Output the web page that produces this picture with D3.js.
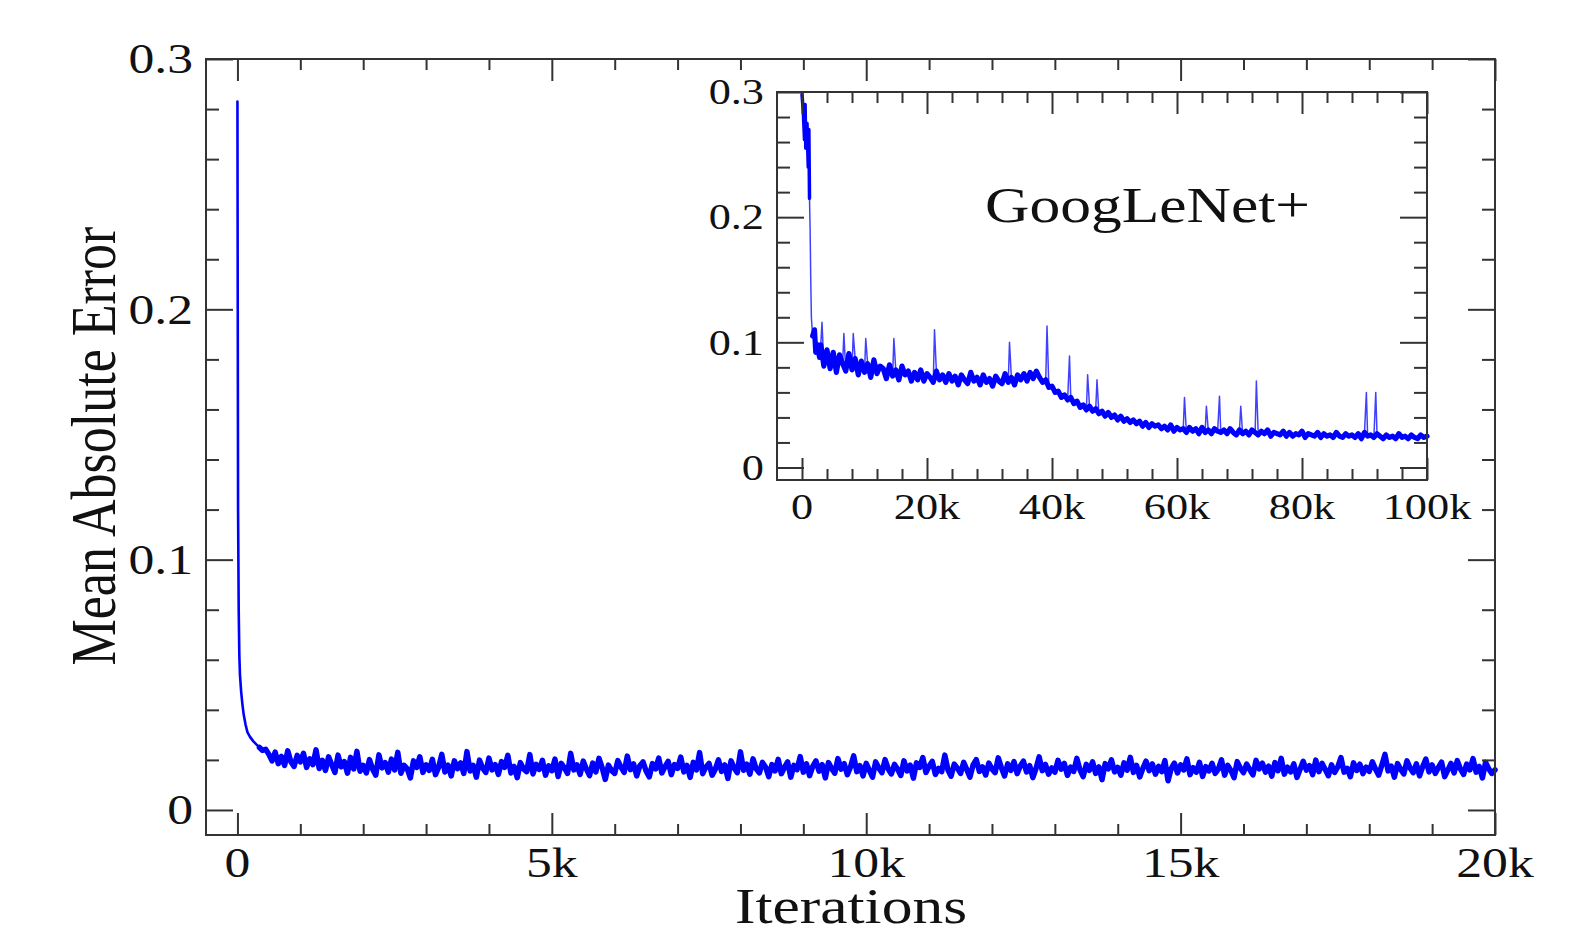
<!DOCTYPE html>
<html><head><meta charset="utf-8">
<script src="https://cdn.jsdelivr.net/npm/d3@7"></script>
<style>html,body{margin:0;padding:0;background:#fff;} svg{display:block;}</style>
</head><body><svg id="c" width="1585" height="928"></svg>
<script>
// ---------------- data ----------------
const xLabel = "Iterations";
const yLabel = "Mean Absolute Error";
const insetTitle = "GoogLeNet+";

const mainXTicks = [0, 5000, 10000, 15000, 20000];
const mainXTickLabels = ["0", "5k", "10k", "15k", "20k"];
const yTicks = [0, 0.1, 0.2, 0.3];
const yTickLabels = ["0", "0.1", "0.2", "0.3"];
const insetXTicks = [0, 20000, 40000, 60000, 80000, 100000];
const insetXTickLabels = ["0", "20k", "40k", "60k", "80k", "100k"];

// main curve: first few hundred iterations
const mainEarlyIter = [0, 5, 10, 20, 30, 40, 60, 80, 100, 130, 160, 200, 250, 300, 350, 400, 450];
const mainEarlyMAE  = [.283, .200, .120, .080, .062, .054, .047, .042, .038, .034, .031, .0292, .0275, .0262, .0250, .0238, .0242];
// main curve: sampled every 50 iterations from 500 to 20000
const mainGridStart = 500, mainGridStep = 50;
const mainGridMAE = [
.0222,.0196,.0231,.0185,.0214,.0178,.0236,.0193,.0174,.0218,
.0192,.0226,.0170,.0204,.0181,.0240,.0166,.0198,.0158,.0212,
.0181,.0150,.0219,.0172,.0193,.0147,.0210,.0164,.0234,.0155,
.0178,.0148,.0201,.0163,.0139,.0220,.0168,.0189,.0151,.0203,
.0160,.0230,.0147,.0178,.0165,.0128,.0196,.0170,.0212,.0150,
.0180,.0158,.0202,.0141,.0171,.0222,.0152,.0179,.0136,.0196,
.0165,.0188,.0146,.0233,.0156,.0178,.0131,.0199,.0167,.0150,
.0207,.0160,.0181,.0142,.0193,.0170,.0218,.0148,.0174,.0129,
.0189,.0164,.0153,.0221,.0144,.0182,.0162,.0198,.0139,.0176,
.0157,.0203,.0134,.0186,.0168,.0146,.0226,.0160,.0180,.0142,
.0195,.0163,.0137,.0187,.0152,.0206,.0169,.0122,.0179,.0158,
.0146,.0197,.0171,.0150,.0215,.0161,.0184,.0136,.0177,.0192,
.0155,.0132,.0185,.0164,.0207,.0148,.0173,.0194,.0141,.0181,
.0166,.0211,.0152,.0178,.0130,.0190,.0160,.0229,.0145,.0171,
.0186,.0139,.0163,.0200,.0154,.0180,.0126,.0196,.0168,.0149,
.0232,.0159,.0183,.0143,.0204,.0164,.0148,.0190,.0171,.0133,
.0181,.0156,.0202,.0145,.0170,.0192,.0131,.0178,.0161,.0213,
.0151,.0184,.0137,.0174,.0196,.0155,.0181,.0128,.0189,.0166,
.0147,.0205,.0163,.0185,.0141,.0172,.0216,.0153,.0177,.0136,
.0186,.0158,.0131,.0192,.0168,.0149,.0201,.0164,.0144,.0182,
.0163,.0138,.0196,.0156,.0179,.0127,.0188,.0170,.0209,.0150,
.0175,.0194,.0142,.0166,.0153,.0219,.0160,.0135,.0183,.0167,
.0146,.0190,.0161,.0131,.0180,.0201,.0154,.0172,.0140,.0187,
.0164,.0149,.0208,.0169,.0136,.0184,.0158,.0193,.0145,.0176,
.0195,.0152,.0177,.0129,.0165,.0212,.0157,.0182,.0143,.0168,
.0151,.0198,.0163,.0186,.0138,.0171,.0154,.0206,.0160,.0133,
.0182,.0158,.0192,.0146,.0172,.0121,.0185,.0164,.0200,.0152,
.0170,.0139,.0188,.0159,.0210,.0150,.0178,.0132,.0166,.0195,
.0157,.0184,.0143,.0174,.0153,.0197,.0117,.0165,.0187,.0148,
.0180,.0160,.0204,.0141,.0169,.0151,.0190,.0134,.0173,.0156,
.0186,.0146,.0163,.0200,.0139,.0178,.0158,.0129,.0193,.0167,
.0149,.0183,.0161,.0140,.0198,.0164,.0187,.0151,.0175,.0135,
.0189,.0157,.0206,.0143,.0171,.0152,.0184,.0130,.0163,.0194,
.0159,.0177,.0141,.0199,.0153,.0186,.0162,.0137,.0180,.0150,
.0172,.0209,.0151,.0166,.0133,.0188,.0158,.0183,.0145,.0171,
.0154,.0192,.0163,.0139,.0179,.0222,.0156,.0175,.0131,.0185,
.0162,.0144,.0196,.0168,.0149,.0184,.0136,.0173,.0203,.0152,
.0180,.0146,.0170,.0191,.0133,.0159,.0186,.0148,.0197,.0164,
.0142,.0183,.0160,.0205,.0151,.0174,.0128,.0190,.0165,.0146,
.0160];

// inset curve: first iterations
const insetEarlyIter = [0, 200, 400, 500, 600, 800, 1000, 1100, 1200, 1300, 1400, 1500, 1700, 2000, 2200, 2500, 2800];
const insetEarlyMAE  = [.298, .285, .262, .290, .255, .275, .240, .270, .215, .190, .150, .120, .105, .110, .092, .098, .088];
// inset curve: sampled every 500 iterations from 3000 to 100000
const insetGridStart = 3000, insetGridStep = 500;
const insetGridMAE = [
.0980,.0810,.0940,.0790,.0920,.0760,.0900,.0830,.0770,.0910,
.0780,.0870,.0740,.0850,.0760,.0830,.0720,.0860,.0750,.0810,
.0790,.0710,.0820,.0730,.0780,.0700,.0810,.0740,.0770,.0690,
.0760,.0700,.0780,.0690,.0750,.0720,.0680,.0770,.0700,.0740,
.0680,.0750,.0690,.0730,.0660,.0740,.0700,.0670,.0760,.0690,
.0720,.0660,.0740,.0680,.0710,.0650,.0730,.0690,.0670,.0750,
.0680,.0720,.0660,.0740,.0700,.0750,.0690,.0760,.0710,.0770,
.0720,.0680,.0700,.0640,.0650,.0600,.0610,.0560,.0580,.0540,
.0560,.0510,.0530,.0480,.0500,.0460,.0490,.0450,.0470,.0430,
.0450,.0410,.0440,.0400,.0420,.0380,.0410,.0370,.0390,.0360,
.0380,.0350,.0370,.0330,.0360,.0320,.0350,.0330,.0340,.0310,
.0330,.0300,.0340,.0290,.0320,.0300,.0310,.0280,.0320,.0290,
.0310,.0270,.0320,.0280,.0300,.0270,.0310,.0290,.0280,.0300,
.0270,.0310,.0280,.0260,.0300,.0270,.0290,.0260,.0300,.0280,
.0260,.0290,.0270,.0300,.0250,.0280,.0270,.0260,.0290,.0250,
.0280,.0250,.0270,.0260,.0290,.0240,.0270,.0260,.0250,.0280,
.0240,.0270,.0250,.0260,.0240,.0280,.0250,.0240,.0270,.0250,
.0260,.0240,.0270,.0230,.0280,.0250,.0260,.0240,.0270,.0250,
.0230,.0260,.0240,.0250,.0230,.0270,.0240,.0250,.0230,.0260,
.0240,.0230,.0260,.0240,.0250];
// isolated spikes in the inset curve
const insetSpikeIter = [3200, 6700, 8200, 10200, 14700, 21200, 33200, 39200, 42800, 45700, 47200, 61200, 64700, 66800, 70200, 72700, 90300, 91800];
const insetSpikeMAE  = [.116, .107, .107, .103, .103, .110, .100, .113, .089, .074, .070, .056, .049, .057, .049, .069, .060, .060];

// ---------------- drawing ----------------
const svg = d3.select("#c");
const FONT = "'Liberation Serif','Times New Roman',serif";
const STRETCH = 1.23;
const AX = "#333";
const BLUE = "#0000ff";

function pairs(iters, vals) { return iters.map((it, i) => [it, vals[i]]); }
function gridPairs(start, step, vals) { return vals.map((v, i) => [start + i * step, v]); }
const byIter = (a, b) => a[0] - b[0];

const mainFull = pairs(mainEarlyIter, mainEarlyMAE).concat(gridPairs(mainGridStart, mainGridStep, mainGridMAE)).sort(byIter);
const mainBand = mainFull.filter(d => d[0] >= 350);
const insetBase = pairs(insetEarlyIter, insetEarlyMAE).concat(gridPairs(insetGridStart, insetGridStep, insetGridMAE)).sort(byIter);
const insetFull = insetBase.concat(pairs(insetSpikeIter, insetSpikeMAE)).sort(byIter);
const insetBand = insetBase.filter(d => d[0] >= 1600);
const insetHead = insetBase.filter(d => d[0] <= 1200);

const yMinorVals = d3.range(0, 16).filter(i => i % 5 !== 0).map(i => i * 0.02);

function panel(g, box, xDomain, xMajors, xLabels, xMinors, layers, fs, xLabBase, yLabGap) {
  const x = d3.scaleLinear().domain(xDomain).range([box.l, box.r]);
  const y = d3.scaleLinear().domain([-0.01, 0.3]).range([box.b, box.t]);

  g.append("rect").attr("x", box.l).attr("y", box.t).attr("width", box.r - box.l).attr("height", box.b - box.t)
    .attr("fill", "#fff");

  const line = d3.line().x(d => x(d[0])).y(d => y(d[1]));
  layers.forEach(L => {
    g.append("path").datum(L.data).attr("d", line)
      .attr("fill", "none").attr("stroke", BLUE).attr("stroke-width", L.w)
      .attr("stroke-opacity", L.o || 1)
      .attr("stroke-linejoin", "round").attr("stroke-linecap", "round");
  });

  const style = sel => {
    sel.select(".domain").remove();
    sel.selectAll("line").attr("stroke", AX).attr("stroke-width", 2);
  };
  const ax = (gen, tx, ty, vals, size) => g.append("g").attr("transform", `translate(${tx},${ty})`)
    .call(gen.tickValues(vals).tickSize(size).tickSizeOuter(0).tickFormat("")).call(style);
  ax(d3.axisBottom(x), 0, box.b, xMajors, -22);
  ax(d3.axisBottom(x), 0, box.b, xMinors, -11);
  ax(d3.axisTop(x), 0, box.t, xMajors, -22);
  ax(d3.axisTop(x), 0, box.t, xMinors, -11);
  ax(d3.axisLeft(y), box.l, 0, yTicks, -27);
  ax(d3.axisLeft(y), box.l, 0, yMinorVals, -13);
  ax(d3.axisRight(y), box.r, 0, yTicks, -27);
  ax(d3.axisRight(y), box.r, 0, yMinorVals, -13);

  g.append("rect").attr("x", box.l).attr("y", box.t).attr("width", box.r - box.l).attr("height", box.b - box.t)
    .attr("fill", "none").attr("stroke", AX).attr("stroke-width", 2);

  xMajors.forEach((v, i) => {
    g.append("text").attr("transform", `translate(${x(v)},${xLabBase}) scale(${STRETCH},1)`)
      .attr("text-anchor", "middle").attr("font-family", FONT).attr("font-size", fs)
      .attr("fill", "#111").text(xLabels[i]);
  });
  yTicks.forEach((v, i) => {
    g.append("text").attr("transform", `translate(${box.l - yLabGap},${y(v)}) scale(${STRETCH},1)`)
      .attr("text-anchor", "end").attr("dy", "0.34em").attr("font-family", FONT).attr("font-size", fs)
      .attr("fill", "#111").text(yTickLabels[i]);
  });
}

const mainG = svg.append("g");
panel(mainG, { l: 206, r: 1495, t: 59, b: 835 }, [-500, 20000], mainXTicks, mainXTickLabels,
  d3.range(0, 20001, 1000).filter(v => !mainXTicks.includes(v)),
  [{ data: mainFull, w: 2.6 }, { data: mainBand, w: 5.5 }], 42, 877, 13);

svg.append("text").attr("transform", `translate(851,923) scale(${STRETCH},1)`)
  .attr("text-anchor", "middle").attr("font-family", FONT).attr("font-size", 50).attr("fill", "#111").text(xLabel);
svg.append("text").attr("transform", `translate(115,446) scale(${STRETCH},1) rotate(-90)`)
  .attr("text-anchor", "middle").attr("font-family", FONT).attr("font-size", 52).attr("fill", "#111").text(yLabel);

const insetG = svg.append("g");
panel(insetG, { l: 777, r: 1427, t: 92, b: 480 }, [-4000, 100000], insetXTicks, insetXTickLabels,
  d3.range(0, 100001, 4000).filter(v => !insetXTicks.includes(v)),
  [{ data: insetFull, w: 1.5, o: 0.75 }, { data: insetHead, w: 3.5 }, { data: insetBand, w: 5.2 }], 36, 519, 13);

insetG.append("text").attr("transform", `translate(985,222) scale(${STRETCH},1)`)
  .attr("font-family", FONT).attr("font-size", 50).attr("fill", "#111").text(insetTitle);
</script></body></html>
